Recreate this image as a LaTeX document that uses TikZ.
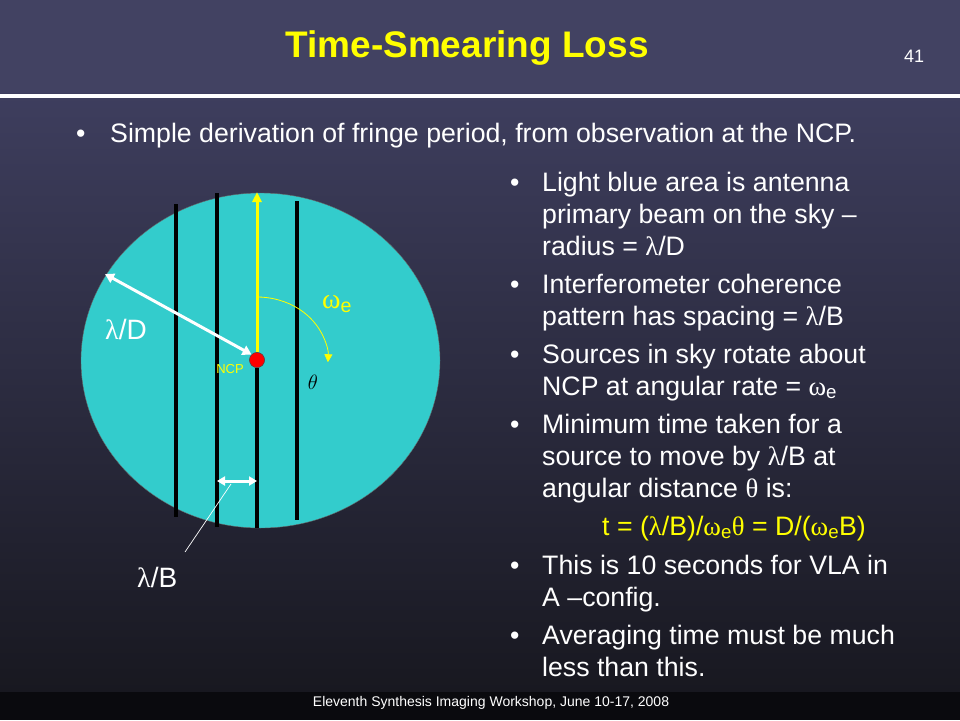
\documentclass[tikz,border=0pt]{standalone}
\usepackage{fontspec}
\setmainfont{Liberation Sans}
\newfontfamily\grk{Liberation Serif}
\usetikzlibrary{arrows.meta,positioning}

\definecolor{barblue}{RGB}{66,66,98}
\definecolor{bodytop}{RGB}{62,62,94}
\definecolor{bodybot}{RGB}{24,24,32}
\definecolor{footblack}{RGB}{10,10,14}
\definecolor{beamcyan}{RGB}{51,204,204}
\definecolor{slideyellow}{RGB}{255,255,0}

\newcommand{\lam}{{\grk λ}}
\newcommand{\ome}{{\grk ω}\textsubscript{e}}
\newcommand{\tht}{{\grk θ}}

\begin{document}
\begin{tikzpicture}[
    x=1pt, y=-1pt,
    bodytext/.style={text=white, inner sep=0pt, anchor=base west, align=left, font=\fontsize{26.7}{32}\selectfont},
    bulletdot/.style={text=white, inner sep=0pt, anchor=base west, font=\fontsize{26.7}{32}\selectfont},
    fringe/.style={line width=3.5pt, black},
    pointer/.style={white, line width=3pt, {Triangle[length=9pt,width=10pt]}-{Triangle[length=9pt,width=10pt]}},
    label/.style={inner sep=0pt, font=\fontsize{28}{30}\selectfont}
]
\useasboundingbox (0,0) rectangle (960,720);

% Background
\shade[top color=bodytop, bottom color=bodybot] (0,93) rectangle (960,692);
\fill[footblack] (0,692) rectangle (960,720);
\fill[barblue] (0,0) rectangle (960,93);
\fill[white] (0,94) rectangle (960,98);

% Title bar
\node[inner sep=0pt, anchor=base, text=slideyellow, font=\fontsize{37}{40}\selectfont\bfseries] (slide-title) at (467,57) {Time-Smearing Loss};
\node[inner sep=0pt, anchor=base, text=white, font=\fontsize{18}{20}\selectfont] (slide-num) at (914,62) {41};

% Top bullet
\node[bulletdot] (top-dot) at (76,142) {•};
\node[bodytext] (top-text) at (110,142) {Simple derivation of fringe period, from observation at the NCP.};

% Primary beam and fringes
\filldraw[fill=beamcyan, draw=black!60, thin] (260.5,360.5) ellipse [x radius=179.5, y radius=167.5];

\node[circle, fill=red, draw=black!70, inner sep=0pt, minimum size=15pt] (ncp-dot) at (257,360) {};

\coordinate (fringe1-top) at (176,204);
\coordinate (fringe1-bot) at (176,517);
\coordinate (fringe2-top) at (217,193);
\coordinate (fringe2-bot) at (217,527);
\coordinate (fringe3-bot) at (257,528);
\coordinate (fringe4-top) at (297,201);
\coordinate (fringe4-bot) at (297,520);
\coordinate (pole-top) at (257,192);

\draw[fringe] (fringe1-top) -- (fringe1-bot);
\draw[fringe] (fringe2-top) -- (fringe2-bot);
\draw[fringe] (ncp-dot.south) -- (fringe3-bot);
\draw[fringe] (fringe4-top) -- (fringe4-bot);
\draw[slideyellow, line width=3pt, -{Triangle[length=10pt,width=9pt]}] (ncp-dot.north) -- (pole-top);
\node[circle, fill=red, draw=black!70, inner sep=0pt, minimum size=15pt] at (ncp-dot) {};

% Rotation arc
\coordinate (arc-start) at (257,297);
\draw[slideyellow, line width=0.8pt, -{Triangle[length=8pt,width=8pt]}] (arc-start) arc[start angle=-90, end angle=3, x radius=71, y radius=62];

% Radius lambda/D
\coordinate (rim-point) at (105,274);
\draw[pointer] (rim-point) -- (ncp-dot.north west);
\node[label, text=white, anchor=base west] (lamD) at (105,339) {\lam/D};

% Fringe spacing lambda/B
\coordinate (spacing-left) at (217,481);
\coordinate (spacing-right) at (257,481);
\coordinate (spacing-tip) at (231,484);
\coordinate (lamB-tail) at (185,552);
\draw[white, line width=3pt, {Triangle[length=8pt,width=9pt]}-{Triangle[length=8pt,width=9pt]}] (spacing-left) -- (spacing-right);
\draw[white, line width=0.7pt] (lamB-tail) -- (spacing-tip);
\node[label, text=white, anchor=base west] (lamB) at (137,587) {\lam/B};

% Figure labels
\node[inner sep=0pt, text=slideyellow, font=\fontsize{28}{30}\selectfont] (omega-lbl) at (337,304) {\ome};
\node[inner sep=0pt, text=black, font=\fontsize{20}{22}\selectfont] (theta-lbl) at (313,382) {$\theta$};
\node[inner sep=0pt, text=slideyellow, font=\fontsize{13}{14}\selectfont, anchor=base east] (ncp-lbl) at (244,373) {NCP};

% Right column bullets
\foreach \y in {191,293,363,433,574,644} {
    \node[bulletdot] at (510,\y) {•};
}
% (base anchor of a multi-line node is its last line)
\node[bodytext] (b1) at (542,255) {Light blue area is antenna\\primary beam on the sky --\\radius = \lam/D};
\node[bodytext] (b2) at (542,325) {Interferometer coherence\\pattern has spacing = \lam/B};
\node[bodytext] (b3) at (542,395) {Sources in sky rotate about\\NCP at angular rate = \ome};
\node[bodytext] (b4) at (542,497) {Minimum time taken for a\\source to move by \lam/B at\\angular distance \tht{} is:};
\node[bodytext, text=slideyellow] (formula) at (602,535) {t = (\lam/B)/\ome\tht{} = D/(\ome B)};
\node[bodytext] (b5) at (542,606) {This is 10 seconds for VLA in\\A --config.};
\node[bodytext] (b6) at (542,676) {Averaging time must be much\\less than this.};

% Footer
\node[inner sep=0pt, anchor=base, text=white, font=\fontsize{14}{16}\selectfont] (footer) at (491,706) {Eleventh Synthesis Imaging Workshop, June 10-17, 2008};

\end{tikzpicture}
\end{document}
